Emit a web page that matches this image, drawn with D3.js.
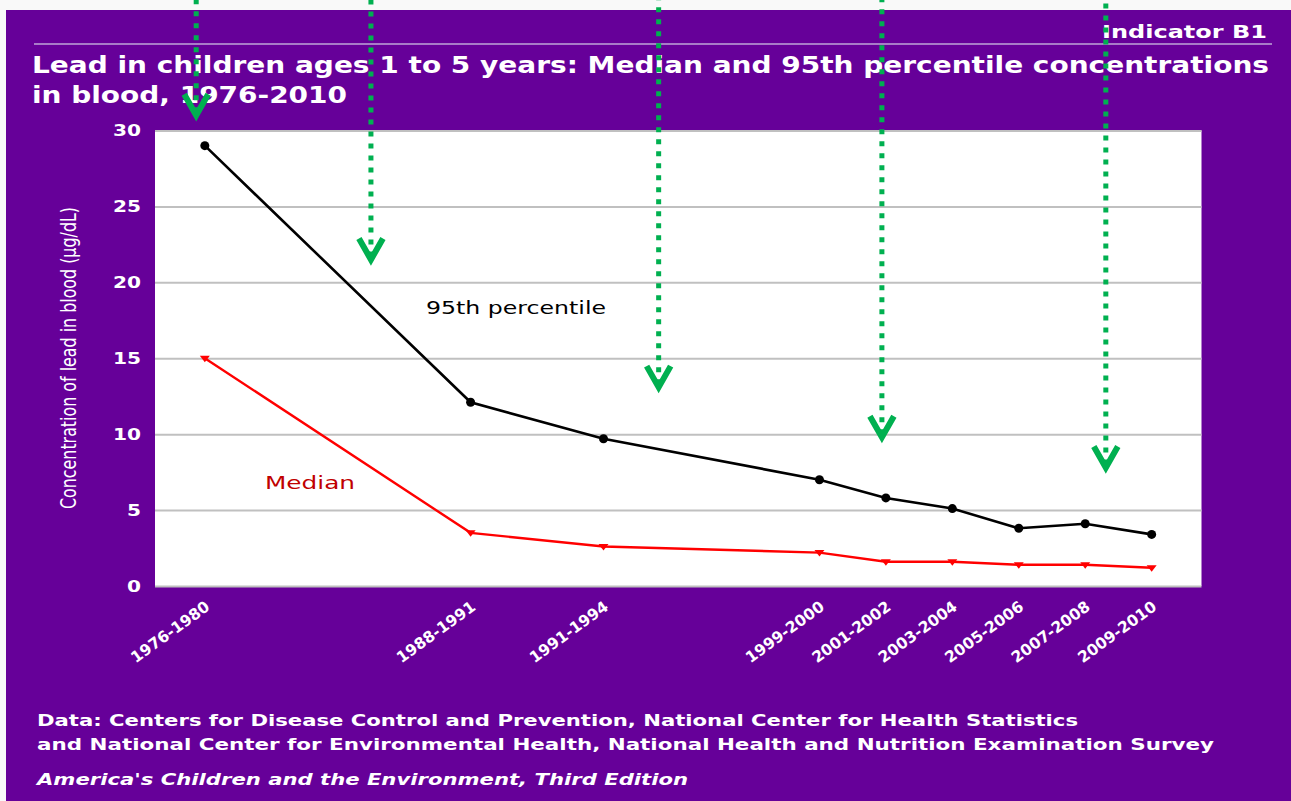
<!DOCTYPE html>
<html>
<head>
<meta charset="utf-8">
<title>Lead in children</title>
<script src="https://cdn.jsdelivr.net/npm/d3@7/dist/d3.min.js"></script>
<style>
    body { margin: 0; background: #f9f9f9; }
    text { font-family: "DejaVu Sans", Verdana, sans-serif; }
</style>
</head>
<body>
<svg id="chart" width="1291" height="801"></svg>
<script>
    // survey periods and where they sit along the x axis (axis units)
    var periods = ["1976-1980", "1988-1991", "1991-1994", "1999-2000", "2001-2002",
                   "2003-2004", "2005-2006", "2007-2008", "2009-2010"];
    var periodPos = [0, 4, 6, 9.25, 10.25, 11.25, 12.25, 13.25, 14.25];
    // blood lead, ug/dL
    var p95 = [29.0, 12.1, 9.7, 7.0, 5.8, 5.1, 3.8, 4.1, 3.4];
    var median = [15.0, 3.5, 2.6, 2.2, 1.6, 1.6, 1.4, 1.4, 1.2];
    var yTicks = [0, 5, 10, 15, 20, 25, 30];
    // green annotation arrows (axis units / ug/dL of the arrow tip)
    var arrowPos = [-0.13, 2.5, 6.83, 10.19, 13.56];
    var arrowTip = [30.8, 21.3, 12.9, 9.6, 7.6];

    var svg = d3.select("#chart");
    var purple = "#660099";

    svg.append("rect")
        .attr("x", 6).attr("y", 10)
        .attr("width", 1285).attr("height", 791)
        .attr("fill", purple);

    svg.append("line")
        .attr("x1", 34).attr("x2", 1272)
        .attr("y1", 44).attr("y2", 44)
        .attr("stroke", "#a87cc8").attr("stroke-width", 2);

    svg.append("text")
        .attr("x", 1267).attr("y", 38)
        .attr("text-anchor", "end")
        .attr("font-size", "18px").attr("font-weight", "bold")
        .attr("fill", "white")
        .attr("textLength", 165).attr("lengthAdjust", "spacingAndGlyphs")
        .text("Indicator B1");

    svg.append("text")
        .attr("x", 32).attr("y", 73)
        .attr("font-size", "22.5px").attr("font-weight", "bold")
        .attr("fill", "white")
        .attr("textLength", 1237).attr("lengthAdjust", "spacingAndGlyphs")
        .text("Lead in children ages 1 to 5 years: Median and 95th percentile concentrations");
    svg.append("text")
        .attr("x", 32).attr("y", 103)
        .attr("font-size", "22.5px").attr("font-weight", "bold")
        .attr("fill", "white")
        .attr("textLength", 315).attr("lengthAdjust", "spacingAndGlyphs")
        .text("in blood, 1976-2010");

    var plotL = 155, plotR = 1201.5, plotT = 130.5, plotB = 586;

    var x = d3.scaleLinear().domain([-0.75, 15]).range([plotL, plotR]);
    var y = d3.scaleLinear().domain([0, 30]).range([plotB, plotT]);

    svg.append("rect")
        .attr("x", plotL).attr("y", plotT)
        .attr("width", plotR - plotL).attr("height", plotB - plotT)
        .attr("fill", "white");

    // grid + y labels
    var yAxis = svg.append("g")
        .attr("transform", "translate(" + plotL + ",0)")
        .call(d3.axisLeft(y).tickValues(yTicks).tickSize(-(plotR - plotL)).tickPadding(14));
    yAxis.select(".domain").remove();
    yAxis.selectAll(".tick line")
        .attr("stroke", "#c0c0c0").attr("stroke-width", 2);
    yAxis.selectAll(".tick text")
        .attr("fill", "white")
        .attr("font-family", "'DejaVu Sans', Verdana, sans-serif")
        .attr("font-size", "16px").attr("font-weight", "bold")
        .attr("textLength", function(d) { return String(d).length * 14; })
        .attr("lengthAdjust", "spacingAndGlyphs");

    svg.append("text")
        .attr("transform", "translate(76,358) rotate(-90)")
        .attr("text-anchor", "middle")
        .attr("font-family", "'Liberation Sans Narrow', 'Liberation Sans', Arial, sans-serif")
        .attr("font-size", "21px")
        .attr("fill", "white")
        .attr("textLength", 302).attr("lengthAdjust", "spacingAndGlyphs")
        .text("Concentration of lead in blood (\u00b5g/dL)");

    // x labels
    svg.selectAll("text.xlab")
        .data(periods)
        .enter()
        .append("text")
        .attr("class", "xlab")
        .attr("transform", function(d, i) {
            return "translate(" + (x(periodPos[i]) + 6) + ",609) rotate(-36)";
        })
        .attr("text-anchor", "end")
        .attr("font-size", "15.5px").attr("font-weight", "bold")
        .attr("fill", "white")
        .text(function(d) { return d; });

    var seriesLine = d3.line()
        .x(function(d, i) { return x(periodPos[i]); })
        .y(function(d) { return y(d); });

    svg.append("path")
        .datum(p95)
        .attr("d", seriesLine)
        .attr("fill", "none").attr("stroke", "black").attr("stroke-width", 2.6);

    svg.selectAll("circle.p95")
        .data(p95)
        .enter()
        .append("circle")
        .attr("class", "p95")
        .attr("cx", function(d, i) { return x(periodPos[i]); })
        .attr("cy", function(d) { return y(d); })
        .attr("r", 4.5)
        .attr("fill", "black");

    svg.append("path")
        .datum(median)
        .attr("d", seriesLine)
        .attr("fill", "none").attr("stroke", "#ff0000").attr("stroke-width", 2.4);

    svg.selectAll("path.med")
        .data(median)
        .enter()
        .append("path")
        .attr("class", "med")
        .attr("d", "M-5,-2.5 L5,-2.5 L0,4 Z")
        .attr("transform", function(d, i) {
            return "translate(" + x(periodPos[i]) + "," + y(d) + ")";
        })
        .attr("fill", "#ff0000");

    svg.append("text")
        .attr("x", 426).attr("y", 314)
        .attr("font-size", "17px")
        .attr("fill", "black")
        .attr("textLength", 180).attr("lengthAdjust", "spacingAndGlyphs")
        .text("95th percentile");

    svg.append("text")
        .attr("x", 265).attr("y", 489)
        .attr("font-size", "17px")
        .attr("fill", "#c00000")
        .attr("textLength", 90).attr("lengthAdjust", "spacingAndGlyphs")
        .text("Median");

    // footer
    svg.append("text")
        .attr("x", 37).attr("y", 726)
        .attr("font-size", "16px").attr("font-weight", "bold")
        .attr("fill", "white")
        .attr("textLength", 1041).attr("lengthAdjust", "spacingAndGlyphs")
        .text("Data: Centers for Disease Control and Prevention, National Center for Health Statistics");
    svg.append("text")
        .attr("x", 37).attr("y", 750)
        .attr("font-size", "16px").attr("font-weight", "bold")
        .attr("fill", "white")
        .attr("textLength", 1177).attr("lengthAdjust", "spacingAndGlyphs")
        .text("and National Center for Environmental Health, National Health and Nutrition Examination Survey");
    svg.append("text")
        .attr("x", 37).attr("y", 785)
        .attr("font-size", "16px").attr("font-weight", "bold").attr("font-style", "italic")
        .attr("fill", "white")
        .attr("textLength", 651).attr("lengthAdjust", "spacingAndGlyphs")
        .text("America's Children and the Environment, Third Edition");

    // green arrows
    var green = "#00b050";
    var arrows = svg.selectAll("g.arrow")
        .data(arrowPos)
        .enter()
        .append("g")
        .attr("class", "arrow")
        .attr("transform", function(d, i) {
            return "translate(" + x(d) + "," + y(arrowTip[i]) + ")";
        });

    arrows.append("line")
        .attr("x1", 0).attr("x2", 0)
        .attr("y1", -6)
        .attr("y2", function(d, i) { return -y(arrowTip[i]); })
        .attr("stroke", green).attr("stroke-width", 5)
        .attr("stroke-dasharray", "5,7");

    arrows.append("path")
        .attr("d", "M-12,-24 L0,-3 L12,-24")
        .attr("fill", "none")
        .attr("stroke", green).attr("stroke-width", 6)
        .attr("stroke-linejoin", "miter");
</script>
</body>
</html>
